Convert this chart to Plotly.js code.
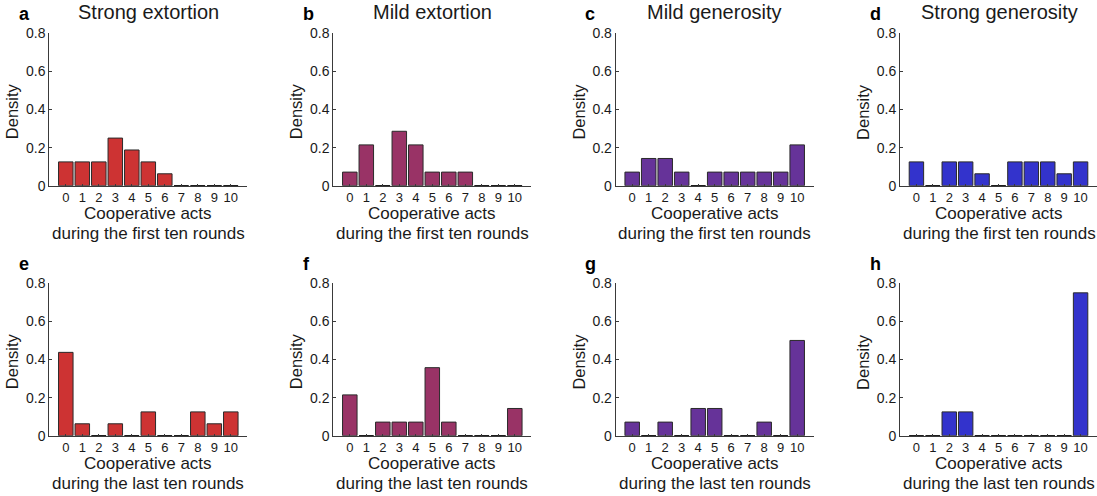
<!DOCTYPE html>
<html><head><meta charset="utf-8">
<script src="https://cdn.plot.ly/plotly-3.0.1.min.js"></script>
<style>html,body{margin:0;padding:0;background:#fff}#chart{width:1097px;height:496px}</style>
</head><body><div id="chart"></div><script>
// ---- data ----
const categories = [0,1,2,3,4,5,6,7,8,9,10];
const xTickText = ['0','1','2','3','4','5','6','7','8','9','10'];
const yTickVals = [0,0.2,0.4,0.6,0.8];
const yTickText = ['0','0.2','0.4','0.6','0.8'];
const panelTitles = ['Strong extortion','Mild extortion','Mild generosity','Strong generosity'];
const panelLetters = ['a','b','c','d','e','f','g','h'];
const xLabelLine1 = 'Cooperative acts';
const xLabelFirst = 'during the first ten rounds';
const xLabelLast = 'during the last ten rounds';
const yLabel = 'Density';

const strongExtortionFirst = [0.125,0.125,0.125,0.25,0.1875,0.125,0.0625,0,0,0,0];
const mildExtortionFirst   = [0.0714,0.2143,0,0.2857,0.2143,0.0714,0.0714,0.0714,0,0,0];
const mildGenerosityFirst  = [0.0714,0.1429,0.1429,0.0714,0,0.0714,0.0714,0.0714,0.0714,0.0714,0.2143];
const strongGenerosityFirst= [0.125,0,0.125,0.125,0.0625,0,0.125,0.125,0.125,0.0625,0.125];
const strongExtortionLast  = [0.4375,0.0625,0,0.0625,0,0.125,0,0,0.125,0.0625,0.125];
const mildExtortionLast    = [0.2143,0,0.0714,0.0714,0.0714,0.3571,0.0714,0,0,0,0.1429];
const mildGenerosityLast   = [0.0714,0,0.0714,0,0.1429,0.1429,0,0,0.0714,0,0.5];
const strongGenerosityLast = [0,0,0.125,0.125,0,0,0,0,0,0,0.75];

const panelColors = ['#CD3333','#993366','#663399','#3333CC'];

// ---- layout geometry (pixels) ----
const W = 1097, H = 496;
const colLeft = [49.3, 333.3, 615.7, 900];
const plotW = 198;
const rowTop = [33.3, 283.3];
const plotH = 152.4;
const FONT = 'Liberation Sans, Arial, Helvetica, sans-serif';
const axisColor = '#3a3a3a';
const edgeColor = '#2a2a2a';

const seriesGrid = [
  [strongExtortionFirst, mildExtortionFirst, mildGenerosityFirst, strongGenerosityFirst],
  [strongExtortionLast, mildExtortionLast, mildGenerosityLast, strongGenerosityLast]
];

const traces = [];
const layout = {
  width: W, height: H,
  margin: {l:0, r:0, t:0, b:0},
  paper_bgcolor: '#fff', plot_bgcolor: 'rgba(0,0,0,0)',
  showlegend: false,
  font: {family: FONT, color: '#1a1a1a'},
  bargap: 0,
  annotations: []
};

const px2x = p => p / W;
const px2y = p => 1 - p / H;

for (let r = 0; r < 2; r++) {
  for (let c = 0; c < 4; c++) {
    const k = r*4 + c + 1;
    const xa = 'x' + (k === 1 ? '' : k);
    const ya = 'y' + (k === 1 ? '' : k);
    const vals = seriesGrid[r][c];
    traces.push({
      type: 'bar', x: categories, y: vals, xaxis: xa, yaxis: ya,
      width: 0.88,
      marker: {color: panelColors[c], line: {color: edgeColor, width: 1}},
      hoverinfo: 'x+y'
    });
    // zero-valued bins drawn as flat outlines like the original
    const zx = [], zy = [];
    categories.forEach((cat, i) => {
      if (vals[i] === 0) { zx.push(cat - 0.44, cat + 0.44, null); zy.push(vals[i], vals[i], null); }
    });
    traces.push({
      type: 'scatter', mode: 'lines', x: zx, y: zy, xaxis: xa, yaxis: ya,
      line: {color: '#111', width: 1.5}, hoverinfo: 'skip', cliponaxis: false
    });

    const left = colLeft[c], right = Math.min(left + plotW, W);
    const top = rowTop[r], bottom = top + plotH;
    const xkey = 'xaxis' + (k === 1 ? '' : k);
    const ykey = 'yaxis' + (k === 1 ? '' : k);
    layout[xkey] = {
      domain: [px2x(left), px2x(right)], anchor: ya,
      range: [-1, 11], fixedrange: true,
      tickmode: 'array', tickvals: categories, ticktext: xTickText,
      ticks: 'inside', ticklen: 2, tickcolor: axisColor, tickwidth: 1,
      tickfont: {size: 13, family: FONT, color: '#1a1a1a'},
      showline: true, linecolor: axisColor, linewidth: 1,
      showgrid: false, zeroline: false, mirror: false
    };
    layout[ykey] = {
      domain: [px2y(bottom), px2y(top)], anchor: xa,
      range: [0, 0.8], fixedrange: true,
      tickmode: 'array', tickvals: yTickVals, ticktext: yTickText,
      ticks: 'inside', ticklen: 3, tickcolor: axisColor, tickwidth: 1,
      tickfont: {size: 14, family: FONT, color: '#1a1a1a'},
      showline: true, linecolor: axisColor, linewidth: 1,
      showgrid: false, zeroline: false
    };
    const cx = (left + left + plotW) / 2;
    // panel letter
    layout.annotations.push({
      text: '<b>' + panelLetters[k-1] + '</b>', xref: 'paper', yref: 'paper',
      x: px2x(left - 32.5), y: px2y(top - 19), xanchor: 'left', yanchor: 'middle',
      showarrow: false, font: {size: 18, family: FONT, color: '#000'}
    });
    // panel title (top row only)
    if (r === 0) {
      layout.annotations.push({
        text: panelTitles[c], xref: 'paper', yref: 'paper',
        x: px2x(cx), y: px2y(top - 21.5), xanchor: 'center', yanchor: 'middle',
        showarrow: false, font: {size: 20, family: FONT, color: '#1a1a1a'}
      });
    }
    // x-axis label, two lines
    layout.annotations.push({
      text: xLabelLine1, xref: 'paper', yref: 'paper',
      x: px2x(cx), y: px2y(bottom + 27.5), xanchor: 'center', yanchor: 'middle',
      showarrow: false, font: {size: 17, family: FONT, color: '#1a1a1a'}
    });
    layout.annotations.push({
      text: r === 0 ? xLabelFirst : xLabelLast, xref: 'paper', yref: 'paper',
      x: px2x(cx), y: px2y(bottom + 47.5), xanchor: 'center', yanchor: 'middle',
      showarrow: false, font: {size: 17, family: FONT, color: '#1a1a1a'}
    });
    // y-axis label
    layout.annotations.push({
      text: yLabel, xref: 'paper', yref: 'paper',
      x: px2x(left - 37.6), y: px2y(top + plotH/2 + 2), xanchor: 'center', yanchor: 'middle',
      textangle: -90, showarrow: false, font: {size: 16.5, family: FONT, color: '#1a1a1a'}
    });
  }
}

Plotly.newPlot('chart', traces, layout, {staticPlot: true, displayModeBar: false});
</script></body></html>
